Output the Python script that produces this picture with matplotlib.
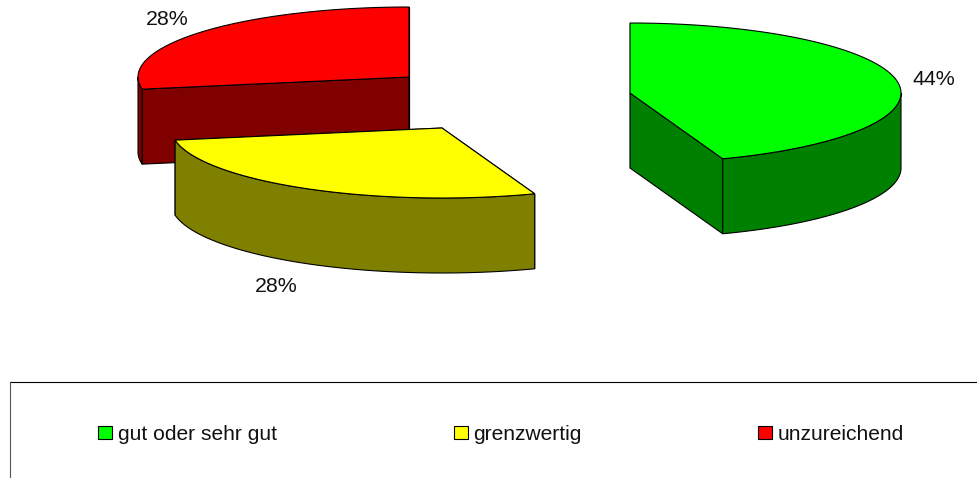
import numpy as np
import matplotlib
matplotlib.use("Agg")
import matplotlib.pyplot as plt
from matplotlib.patches import Polygon, Rectangle

categories = ["gut oder sehr gut", "grenzwertig", "unzureichend"]
values = [8, 5, 5]  # shares 44.4 %, 27.8 %, 27.8 %, shown rounded
top_colors = ["#00FF00", "#FFFF00", "#FF0000"]
side_colors = ["#008000", "#808000", "#800000"]
centers = [(630, 93), (442, 128), (409, 77)]
label_pos = [(934, 79), (276, 287), (167, 19)]
legend_x = [105, 461, 765]

W, H = 977, 478
RX, RY, DEPTH = 271, 70, 75
plt.rcParams["font.family"] = ["Liberation Sans", "DejaVu Sans"]
fig = plt.figure(figsize=(W / 100, H / 100), dpi=100)
ax = fig.add_axes([0, 0, 1, 1])
ax.set_xlim(0, W)
ax.set_ylim(H, 0)
ax.axis("off")


def arc(c, a0, a1, dy=0.0):
    t = np.linspace(a0, a1, 120)
    return np.column_stack([c[0] + RX * np.sin(t), c[1] - RY * np.cos(t) + dy])


edges = np.cumsum([0] + values) / sum(values) * 2 * np.pi
shares = np.array(values) / sum(values) * 100
lw = 0.8
for i in [2, 1, 0]:
    c = centers[i]
    a0, a1 = edges[i], edges[i + 1]
    # radial cut faces
    for a in (a0, a1):
        p = arc(c, a, a, 0)[0]
        ax.add_patch(Polygon([c, p, (p[0], p[1] + DEPTH), (c[0], c[1] + DEPTH)],
                             closed=True, fc=side_colors[i], ec="black", lw=lw))
    # outer wall (front half only)
    lo, hi = max(a0, np.pi / 2), min(a1, 3 * np.pi / 2)
    if hi > lo:
        top = arc(c, lo, hi)
        bot = arc(c, lo, hi, DEPTH)[::-1]
        ax.add_patch(Polygon(np.vstack([top, bot]), closed=True,
                             fc=side_colors[i], ec="black", lw=lw))
    # top face
    ax.add_patch(Polygon(np.vstack([[c], arc(c, a0, a1)]), closed=True,
                         fc=top_colors[i], ec="black", lw=lw))
    ax.text(*label_pos[i], f"{shares[i]:.0f}%", ha="center", va="center",
            fontsize=15.4, color="#111111")

# legend frame
ax.plot([W, 9.5], [382, 382], color="black", lw=0.8)
ax.plot([9.5, 9.5], [382, H], color="#555555", lw=0.8)
for x, name, col in zip(legend_x, categories, top_colors):
    ax.add_patch(Rectangle((x - 7, 425.5), 13.5, 13, fc=col, ec="black", lw=0.8))
    ax.text(x + 12.5, 434, name, ha="left", va="center", fontsize=15.1, color="#111111")

fig.savefig("out.png", dpi=100)
